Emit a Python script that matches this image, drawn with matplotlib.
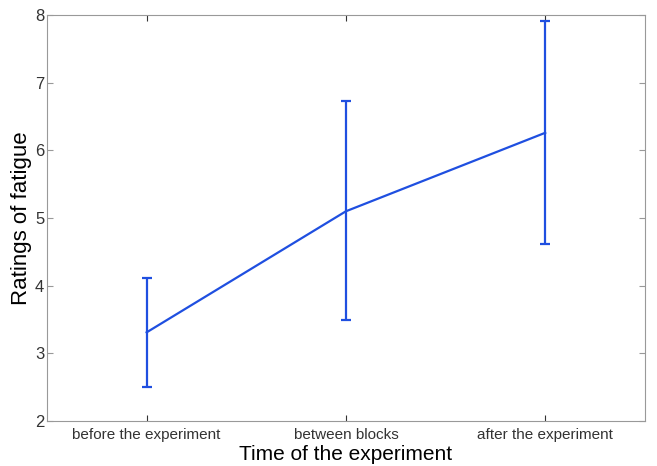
import matplotlib.pyplot as plt

plt.rcParams['font.family'] = ['Liberation Sans', 'DejaVu Sans']

# data
stages = ['before the experiment', 'between blocks', 'after the experiment']
means = [3.31, 5.10, 6.26]
upper = [4.11, 6.73, 7.92]
lower = [2.50, 3.49, 4.61]

x = list(range(1, len(stages) + 1))
err_lo = [m - l for m, l in zip(means, lower)]
err_hi = [u - m for u, m in zip(upper, means)]

fig = plt.figure(figsize=(6.57, 4.66), dpi=100)
ax = fig.add_axes([0.0715, 0.0966, 0.910, 0.871])

ax.errorbar(x, means, yerr=[err_lo, err_hi], color='#1f4fe0', linewidth=1.6,
            elinewidth=1.6, capsize=3.5, capthick=1.6)

ax.set_xlim(0.5, 3.5)
ax.set_ylim(2, 8)
ax.set_xticks(x)
ax.set_xticklabels(stages, fontsize=11)
ax.set_yticks(range(2, 9))
ax.tick_params(axis='y', labelsize=12, colors='#333333', pad=2)
ax.tick_params(direction='in', top=True, right=True, length=4, color='#999999')
ax.tick_params(axis='x', colors='#333333', pad=5)
for s in ax.spines.values():
    s.set_color('#999999')

ax.set_xlabel('Time of the experiment', fontsize=15, labelpad=2)
ax.set_ylabel('Ratings of fatigue', fontsize=16, labelpad=2)

fig.savefig('out.png')
